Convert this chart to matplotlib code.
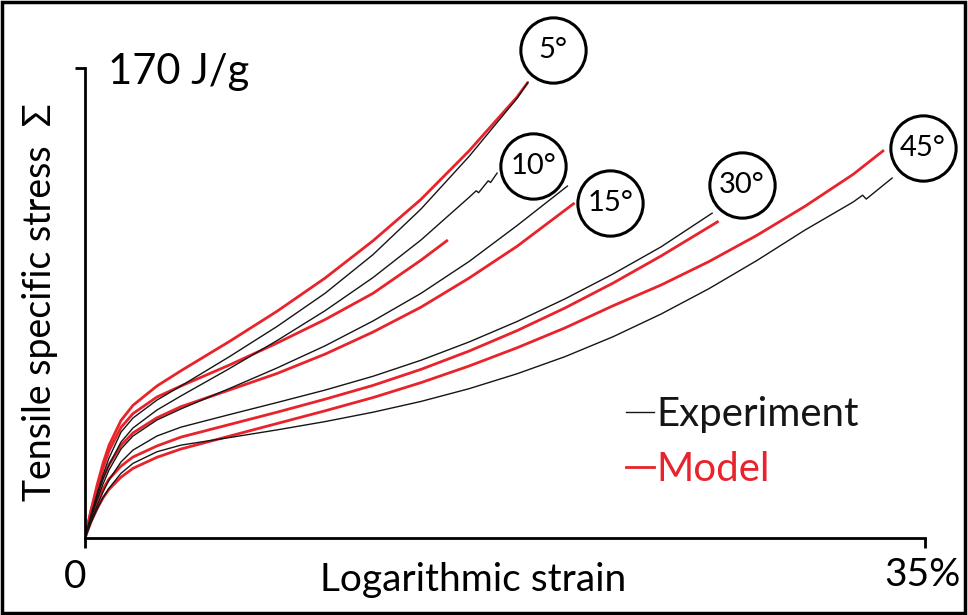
import matplotlib.pyplot as plt
from matplotlib.lines import Line2D
from matplotlib.patches import Rectangle

plt.rcParams['font.family'] = ['Lato', 'DejaVu Sans']

RED = '#e8232b'
BLACK = '#151515'

# strain (%) positions where the curves were read
grid = [0, 0.25, 0.5, 0.75, 1, 1.5, 2, 3, 4, 6, 8, 10, 12, 14, 16, 18, 20, 22, 24, 26, 28, 30, 32]

# specific stress (J/g), experiment (black) and model (red) per angle
exp_5_strain = grid[:16] + [18.46]
exp_5_stress = [0, 8.3, 15.9, 22.8, 28.9, 38.3, 43.4, 49.9, 55.0, 65.5, 76.5, 88.5, 102.5, 119.0, 138.0, 159.0,
                164.9]
model_5_strain = grid[:16] + [18.46]
model_5_stress = [0, 10.0, 19.0, 27.0, 33.5, 42.5, 48.0, 55.0, 60.5, 71.0, 82.0, 94.0, 107.5, 122.5, 140.0,
                  159.5, 164.9]

exp_10_strain = grid[:15] + [16.3, 16.4, 16.8, 16.9, 17.17]
exp_10_stress = [0, 7.6, 14.8, 21.3, 26.4, 34.7, 39.8, 46.3, 51.4, 61.2, 71.4, 82.2, 94.2, 107.8, 123.2,
                 125.6, 124.9, 129.2, 128.6, 132.0]
model_10_strain = grid[:14] + [15.12]
model_10_stress = [0, 9.8, 17.7, 25.2, 31.5, 40.0, 45.0, 51.0, 55.0, 62.5, 70.5, 79.0, 88.5, 100.5, 107.8]

exp_15_strain = grid[:16] + [20.1]
exp_15_stress = [0, 7.2, 13.7, 19.5, 24.6, 32.2, 36.9, 42.7, 46.7, 54.0, 61.5, 69.5, 78.5, 88.5, 100.0, 113.0,
                 127.3]
model_15_strain = grid[:16] + [20.4]
model_15_stress = [0, 9.0, 16.0, 21.8, 26.5, 33.5, 38.0, 43.5, 47.5, 53.5, 59.5, 66.5, 74.5, 83.5, 94.0, 105.5,
                   121.2]

exp_30_strain = grid[:19] + [26.13]
exp_30_stress = [0, 6.1, 11.6, 16.6, 21.0, 27.5, 31.8, 36.9, 40.1, 44.6, 49.0, 53.5, 58.5, 64.3, 70.9, 78.3,
                 86.5, 95.5, 105.3, 117.5]
model_30_strain = grid[:19] + [26.4]
model_30_stress = [0, 7.2, 13.0, 17.7, 21.3, 26.0, 29.3, 33.3, 36.5, 41.0, 45.5, 50.2, 55.2, 61.0, 67.6, 75.0,
                   83.2, 92.2, 102.0, 114.6]

exp_45_strain = grid + [32.4, 32.55, 33.63]
exp_45_stress = [0, 5.6, 10.4, 14.6, 18.0, 23.4, 27.0, 31.2, 33.6, 36.3, 39.1, 42.1, 45.5, 49.4, 54.0, 59.4,
                 65.6, 72.8, 81.0, 90.2, 100.4, 111.4, 121.5, 124.0, 122.6, 130.2]
model_45_strain = grid + [33.29]
model_45_stress = [0, 5.8, 10.5, 14.5, 17.6, 22.0, 25.2, 29.2, 32.2, 36.8, 41.4, 46.0, 50.8, 56.2, 62.2, 68.8,
                   76.0, 84.0, 91.5, 100.0, 109.5, 120.0, 131.5, 140.3]

angle_labels = ['5°', '10°', '15°', '30°', '45°']
label_strain = [19.5, 18.67, 21.88, 27.38, 34.92]
label_stress = [176.5, 134.5, 121.2, 127.7, 141.0]

fig = plt.figure(figsize=(9.68, 6.15), dpi=100)
ax = fig.add_axes([0.0878, 0.1252, 0.8678, 0.7642])

experiments = [(exp_5_strain, exp_5_stress), (exp_10_strain, exp_10_stress), (exp_15_strain, exp_15_stress),
               (exp_30_strain, exp_30_stress), (exp_45_strain, exp_45_stress)]
models = [(model_5_strain, model_5_stress), (model_10_strain, model_10_stress),
          (model_15_strain, model_15_stress), (model_30_strain, model_30_stress),
          (model_45_strain, model_45_stress)]

for xs, ys in models:
    ax.plot(xs, ys, color=RED, lw=2.0, solid_capstyle='butt', solid_joinstyle='round')
for xs, ys in experiments:
    ax.plot(xs, ys, color=BLACK, lw=1.0, solid_joinstyle='round')

for label, sx, sy in zip(angle_labels, label_strain, label_stress):
    ax.plot(sx, sy, marker='o', ms=47, mfc='white', mec='black', mew=2.2, clip_on=False, zorder=5)
    ax.text(sx, sy, label, ha='center', va='center', fontsize=21, zorder=6, clip_on=False)

ax.set_xlim(0, 35)
ax.set_ylim(0, 170)
for side in ['top', 'right']:
    ax.spines[side].set_visible(False)
for side in ['left', 'bottom']:
    ax.spines[side].set_linewidth(2.0)
ax.set_xticks([0, 35])
ax.set_yticks([170])
ax.tick_params(axis='both', direction='out', length=7, width=2.0, labelbottom=False, labelleft=False)

fig.text(0.112, 0.883, '170 J/g', fontsize=30, ha='left', va='center')
fig.text(0.041, 0.509, 'Tensile specific stress  Σ', fontsize=27, rotation=90, ha='center', va='center')
fig.text(0.489, 0.057, 'Logarithmic strain', fontsize=28, ha='center', va='center')
fig.text(0.078, 0.062, '0', fontsize=28, ha='center', va='center')
fig.text(0.953, 0.065, '35%', fontsize=28, ha='center', va='center')

handles = [Line2D([], [], color=BLACK, lw=1.0), Line2D([], [], color=RED, lw=2.0)]
ax.legend(handles, ['Experiment', 'Model'], loc='upper left', bbox_to_anchor=(0.647, 0.356),
          bbox_transform=fig.transFigure, frameon=False, fontsize=29, handlelength=0.68,
          handletextpad=0.06, labelspacing=0.45, borderpad=0, borderaxespad=0, labelcolor='linecolor')

fig.patches.append(Rectangle((0.002, 0.003), 0.995, 0.994, transform=fig.transFigure,
                             fill=False, edgecolor='black', lw=2.5))

fig.savefig('out.png', dpi=100)
